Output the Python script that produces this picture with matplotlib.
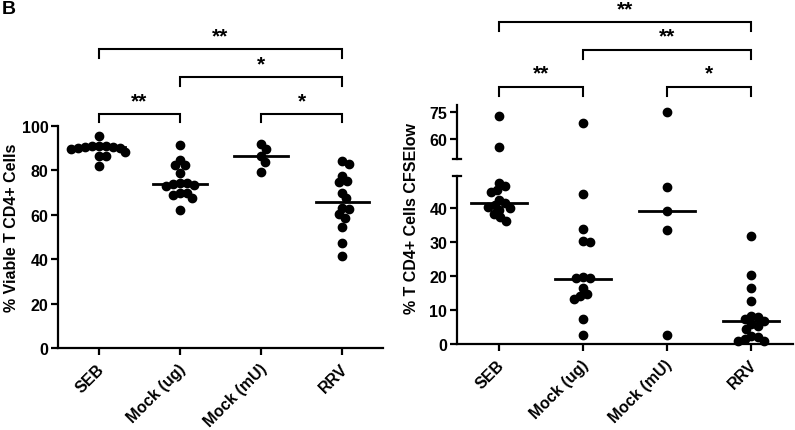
import numpy as np
import matplotlib
matplotlib.use("Agg")
import matplotlib.pyplot as plt
import matplotlib.transforms as mtransforms

plt.rcParams['font.family'] = ['Liberation Sans', 'DejaVu Sans']
plt.rcParams['font.weight'] = 'bold'

groups = ["SEB", "Mock (ug)", "Mock (mU)", "RRV"]

# panel 1: % viable T CD4+ cells
viable_seb = [95.3, 91.0, 90.8, 90.5, 90.3, 90.6, 89.8, 91.2, 90.0, 88.5, 86.3, 86.3, 81.8]
viable_mock_ug = [91.5, 84.8, 82.5, 82.5, 78.7, 74.2, 74.0, 73.5, 74.5, 73.0, 69.7, 69.7, 68.9, 67.4, 62.1]
viable_mock_mu = [91.9, 89.7, 86.3, 83.6, 79.2]
viable_rrv = [84.3, 82.8, 77.7, 75.4, 75.0, 70.0, 67.4, 62.9, 62.6, 60.2, 58.4, 54.3, 47.4, 41.3]
viable_medians = [90.5, 73.7, 86.6, 65.7]

# panel 2: % T CD4+ cells CFSElow
cfse_seb = [72.5, 55.4, 47.5, 46.5, 45.5, 44.9, 42.6, 41.5, 41.0, 40.5, 40.0, 39.5, 38.3, 37.4, 36.4]
cfse_mock_ug = [68.6, 44.2, 33.9, 30.5, 30.2, 19.9, 19.4, 19.4, 16.4, 14.7, 14.2, 13.3, 7.4, 2.7]
cfse_mock_mu = [75.0, 46.2, 39.3, 33.6, 2.7]
cfse_rrv = [32.0, 20.4, 16.5, 12.8, 8.3, 8.0, 7.5, 6.8, 5.8, 5.2, 4.3, 2.5, 2.2, 1.5, 1.0, 0.8]
cfse_medians = [41.7, 19.2, 39.2, 6.7]

# significance: (group a, group b, stars)
viable_sig = [(0, 3, "**"), (1, 3, "*"), (0, 1, "**"), (2, 3, "*")]
cfse_sig = [(0, 3, "**"), (1, 3, "**"), (0, 1, "**"), (2, 3, "*")]

MS = 6.0          # marker size, pt
DIAM = 7.0        # swarm spacing, px
LW = 1.6
FS = 11.5


def swarm(ax, xc, values):
    pts = ax.transData.transform(np.column_stack([np.full(len(values), xc), values]))
    ppu = ax.transData.transform((xc + 1, 0))[0] - ax.transData.transform((xc, 0))[0]
    placed = []
    xs = np.zeros(len(values))
    for i in np.argsort(values)[::-1]:
        py = pts[i, 1]
        cands = [0.0]
        for qx, qy in placed:
            dy = py - qy
            if abs(dy) < DIAM:
                dx = np.sqrt(DIAM ** 2 - dy ** 2)
                cands += [qx + dx, qx - dx]
        cands.sort(key=abs)
        for c in cands:
            if all((c - qx) ** 2 + (py - qy) ** 2 >= DIAM ** 2 - 1e-6 for qx, qy in placed):
                break
        placed.append((c, py))
        xs[i] = xc + c / ppu
    return xs


def dots(ax, xc, values):
    values = np.asarray(values, dtype=float)
    if len(values) == 0:
        return
    xs = swarm(ax, xc, values)
    ax.plot(xs, values, 'o', color='black', ms=MS, clip_on=False, zorder=3)


def style(ax):
    for s in ['top', 'right']:
        ax.spines[s].set_visible(False)
    for s in ['left', 'bottom']:
        ax.spines[s].set_linewidth(LW)
    ax.tick_params(width=LW, length=5, labelsize=FS, pad=2)
    ax.tick_params(axis='x', pad=8)
    ax.set_xlim(-0.5, 3.5)


def xlabels(ax):
    ax.set_xticks(range(4))
    ax.set_xticklabels(groups, rotation=45, ha='right', va='center', rotation_mode='anchor')
    shift = mtransforms.ScaledTranslation(3 / 100, 0, fig.dpi_scale_trans)
    for lab in ax.get_xticklabels():
        lab.set_transform(lab.get_transform() + shift)


def brackets(ax, sig, levels, drop, star_pos):
    for (a, b, stars), lev, sy in zip(sig, levels, star_pos):
        ax.plot([a, a, b, b], [lev - drop, lev, lev, lev - drop], color='black',
                lw=1.5, clip_on=False, solid_joinstyle='miter')
        ax.text((a + b) / 2, sy, stars, ha='center', va='center', fontsize=15,
                fontweight='bold', clip_on=False)


fig = plt.figure(figsize=(7.95, 4.31), dpi=100)
W, H = 795, 431

# ---- left panel
ax1 = fig.add_axes([58 / W, 1 - 349 / H, 325 / W, 222 / H])
style(ax1)
ax1.set_ylim(0, 100)
ax1.set_yticks([0, 20, 40, 60, 80, 100])
xlabels(ax1)
for i, vals in enumerate([viable_seb, viable_mock_ug, viable_mock_mu, viable_rrv]):
    dots(ax1, i, vals)
    ax1.plot([i - 0.33, i + 0.33], [viable_medians[i]] * 2, color='black', lw=2, zorder=4)
brackets(ax1, viable_sig, [134.5, 122, 105.4, 105.4], 3.8, [140.5, 128, 111.5, 111.5])
fig.text(12 / W, 1 - 228 / H, "% Viable T CD4+ Cells", rotation=90, ha='center', va='center',
         fontsize=FS, fontweight='bold')

# ---- right panel (broken y axis)
ax_bot = fig.add_axes([457 / W, 1 - 345 / H, 336 / W, 167.7 / H])
ax_top = fig.add_axes([457 / W, 1 - 160 / H, 336 / W, 54 / H])
style(ax_bot)
style(ax_top)
ax_bot.set_ylim(0, 49.5)
ax_bot.set_yticks([0, 10, 20, 30, 40])
xlabels(ax_bot)
ax_top.set_ylim(49, 78.7)
ax_top.set_yticks([60, 75])
ax_top.spines['bottom'].set_visible(False)
ax_top.set_xticks([])
ax_top.patch.set_visible(False)
ax_bot.patch.set_visible(False)

cut = 49
for i, vals in enumerate([cfse_seb, cfse_mock_ug, cfse_mock_mu, cfse_rrv]):
    vals = np.asarray(vals)
    dots(ax_bot, i, vals[vals < cut])
    dots(ax_top, i, vals[vals >= cut])
    ax_bot.plot([i - 0.33, i + 0.33], [cfse_medians[i]] * 2, color='black', lw=2, zorder=4)

# caps at the axis break
for ax, yy in [(ax_top, 0), (ax_bot, 1)]:
    ax.plot([-0.012, 0.012], [yy, yy], transform=ax.transAxes, color='black', lw=LW, clip_on=False)

brackets(ax_top, cfse_sig, [124.1, 109.1, 88.7, 88.7], 4.9, [131.5, 116.5, 96.5, 96.5])
fig.text(412 / W, 1 - 219 / H, "% T CD4+ Cells CFSElow", rotation=90, ha='center', va='center',
         fontsize=FS, fontweight='bold')

fig.text(0.002, 0.997, "B", ha='left', va='top', fontsize=14, fontweight='bold')

fig.savefig("out.png", dpi=100)
